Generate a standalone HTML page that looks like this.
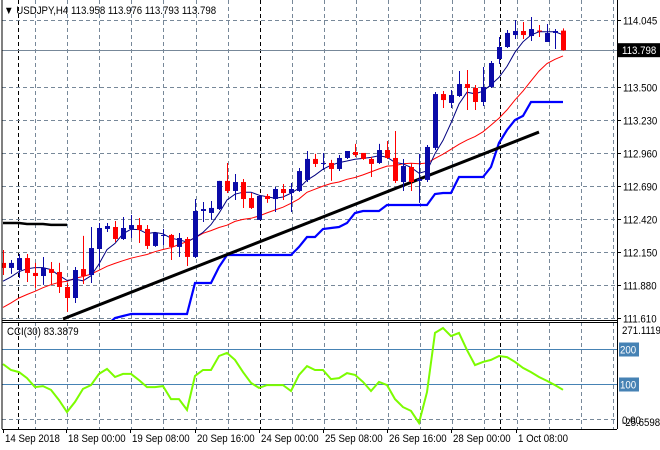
<!DOCTYPE html>
<html><head><meta charset="utf-8"><style>
html,body{margin:0;padding:0;background:#fff;}
svg{display:block;font-family:"Liberation Sans",sans-serif;}
</style></head><body>
<svg id="chart" width="660" height="450" xmlns="http://www.w3.org/2000/svg">
<defs>
<clipPath id="mainClip"><rect x="2" y="0" width="615" height="320"/></clipPath>
<clipPath id="cciClip"><rect x="2" y="323" width="615" height="105"/></clipPath>
</defs>
<g id="grid"></g>
<g id="main" clip-path="url(#mainClip)"></g>
<g id="cci" clip-path="url(#cciClip)"></g>
<g id="axes"></g>
<text class="lbl" x="4" y="14" font-size="11" fill="#000">▼ USDJPY,H4  113.958 113.976 113.793 113.798</text>
<text class="lbl" x="7" y="335" font-size="11" fill="#000">CCI(30) 83.3879</text>
</svg>
<script>
const opens=[112.057,112.016,111.999,112.097,111.975,111.950,112.007,111.983,111.860,111.770,112.007,111.958,112.171,112.335,112.351,112.253,112.335,112.367,112.335,112.196,112.278,112.286,112.188,112.253,112.106,112.482,112.466,112.498,112.728,112.646,112.719,112.588,112.409,112.605,112.580,112.662,112.629,112.646,112.736,112.908,112.871,112.875,112.826,112.916,112.965,112.957,112.908,112.875,112.981,112.916,112.719,112.842,112.728,112.736,112.998,113.439,113.366,113.423,113.521,113.489,113.374,113.497,113.726,113.824,113.922,113.955,113.914,113.959,113.865,113.939,113.958];
const highs=[112.163,112.081,112.130,112.130,112.057,112.106,112.065,112.057,111.893,112.024,112.278,112.351,112.384,112.384,112.400,112.433,112.449,112.425,112.367,112.302,112.335,112.294,112.302,112.269,112.580,112.556,112.564,112.728,112.875,112.785,112.744,112.629,112.613,112.621,112.678,112.703,112.711,112.834,112.973,112.949,112.957,112.900,112.940,112.973,113.031,112.957,112.924,113.031,113.055,113.137,112.908,112.875,112.949,113.022,113.456,113.464,113.472,113.628,113.636,113.513,113.660,113.709,113.906,113.963,114.045,114.029,114.070,114.004,114.012,113.971,113.976];
const lows=[111.958,111.967,111.934,111.901,111.852,111.877,111.885,111.811,111.656,111.729,111.885,111.893,112.024,112.310,112.228,112.245,112.261,112.220,112.171,112.188,112.204,112.081,112.106,112.032,112.097,112.392,112.409,112.490,112.629,112.572,112.507,112.498,112.409,112.548,112.474,112.572,112.474,112.638,112.719,112.842,112.818,112.728,112.809,112.908,112.924,112.900,112.760,112.867,112.908,112.711,112.646,112.646,112.548,112.719,112.981,113.325,113.325,113.415,113.308,113.308,113.341,113.489,113.685,113.816,113.890,113.890,113.873,113.906,113.865,113.808,113.793];
const closes=[112.016,112.057,112.097,111.975,111.950,112.016,111.975,111.860,111.770,111.999,111.950,112.179,112.343,112.359,112.253,112.343,112.367,112.327,112.196,112.302,112.286,112.188,112.261,112.106,112.482,112.498,112.507,112.728,112.646,112.719,112.580,112.507,112.605,112.580,112.662,112.629,112.662,112.809,112.908,112.867,112.875,112.826,112.916,112.973,112.940,112.908,112.867,112.981,112.916,112.728,112.850,112.719,112.744,113.006,113.439,113.390,113.431,113.521,113.489,113.374,113.497,113.693,113.824,113.939,113.955,113.922,113.971,113.955,113.939,113.955,113.798];
const priorCloses=[111.50,111.50,111.55,111.55,111.58,111.60,111.58,111.62,111.66,111.72,111.88,111.88,111.86,111.90];
const stopLine=[111.55,111.55,111.55,111.55,111.55,111.55,111.55,111.55,111.55,111.55,111.55,111.55,111.55,111.55,111.606,111.623,111.639,111.639,111.639,111.639,111.639,111.639,111.639,111.639,111.893,111.893,111.893,112.024,112.122,112.122,112.122,112.122,112.122,112.122,112.122,112.122,112.122,112.188,112.269,112.269,112.335,112.343,112.351,112.384,112.466,112.482,112.482,112.482,112.531,112.531,112.531,112.531,112.531,112.531,112.621,112.629,112.629,112.760,112.760,112.760,112.760,112.842,113.039,113.145,113.227,113.260,113.374,113.374,113.374,113.374,113.374];
const levelLine=[112.384,112.384,112.384,112.376,112.376,112.376,112.368,112.368,112.368];
const trendIdx=[7.5,67];
const trendPrice=[111.598,113.128];
const cciValues=[157,140,134,117,91,94,83,54,20,49,86,97,129,143,120,129,129,111,91,91,94,57,57,26,123,140,140,180,189,169,134,103,89,97,97,97,80,126,151,140,140,114,117,131,126,106,80,106,97,57,34,23,-11,77,246,260,237,246,197,154,163,169,180,177,163,146,134,120,109,97,83.39];
const priceTicks=["114.045","113.500","113.230","112.960","112.690","112.420","112.150","111.880","111.610"];
const cciLevels=[200,100];
const timeLabels=["14 Sep 2018","18 Sep 00:00","19 Sep 08:00","20 Sep 16:00","24 Sep 00:00","25 Sep 08:00","26 Sep 16:00","28 Sep 00:00","1 Oct 08:00"];
const lastPrice=113.798;

const NS="http://www.w3.org/2000/svg";
function xs(i){return 3+8*i;}
function ys(p){return 20+(114.045-p)*122.2;}
function yc(v){return 419-v*0.35;}
function mk(tag,attrs,parent){const e=document.createElementNS(NS,tag);for(const k in attrs)e.setAttribute(k,attrs[k]);parent.appendChild(e);return e;}
const grid=document.getElementById('grid'),main=document.getElementById('main'),cci=document.getElementById('cci'),axes=document.getElementById('axes');

for(let k=0;k<19;k++){const x=Math.round(35+32.1*k)+0.5;const black=(k===7);
 const l=mk('line',{x1:x,y1:0,x2:x,y2:429,stroke:black?'#000':'#778899','stroke-dasharray':'4,3','stroke-width':1},grid);
 
 }
[18.5,500.5].forEach(x=>{const l=mk('line',{x1:x,y1:0,x2:x,y2:429,stroke:'#000','stroke-dasharray':'4,3'},grid);
 
 });
priceTicks.forEach(t=>{const y=Math.round(ys(parseFloat(t)))+0.5;
 const l=mk('line',{x1:2,y1:y,x2:617,y2:y,stroke:'#778899','stroke-dasharray':'4,3'},grid);
 
 
 mk('line',{x1:617,y1:y,x2:621,y2:y,stroke:'#000'},axes);
 const tx=mk('text',{x:623,y:y+4,'font-size':11,fill:'#000','class':'lbl'},axes);tx.textContent=t;
 
 });
{const y=Math.round(ys(lastPrice))+0.5;
 const l=mk('line',{x1:2,y1:y,x2:617,y2:y,stroke:'#778899'},main);
 
 }
function sma(n){const all=priorCloses.concat(closes);const out=[];for(let i=0;i<closes.length;i++){const j=i+priorCloses.length;let s=0,c=0;for(let k=Math.max(0,j-n+1);k<=j;k++){s+=all[k];c++;}out.push(s/c);}return out;}
function poly(vals,color,w,name){const p=mk('polyline',{points:vals.map((v,i)=>xs(i)+','+ys(v).toFixed(1)).join(' '),fill:'none',stroke:color,'stroke-width':w},main);
 
 return p;}
poly(sma(15),'#ff0000',1,'slow-ma-line');
poly(sma(5),'#000080',1,'fast-ma-line');
poly(stopLine,'#0000ff',2.2,'trailing-stop-line');
poly(levelLine,'#000',2.5,'previous-level-line');
{const t=mk('line',{x1:xs(trendIdx[0]),y1:ys(trendPrice[0]),x2:xs(trendIdx[1]),y2:ys(trendPrice[1]),stroke:'#000','stroke-width':3},main);
 
 }
for(let i=0;i<closes.length;i++){const bull=closes[i]>=opens[i];const col=bull?'#0a0aa8':'#ff0000';const x=xs(i);
 const g=mk('g',{},main);
 
 
 mk('line',{x1:x+0.5,y1:ys(highs[i]),x2:x+0.5,y2:ys(lows[i]),stroke:col,'stroke-width':1},g);
 const top=ys(Math.max(opens[i],closes[i])),bot=ys(Math.min(opens[i],closes[i]));
 mk('rect',{x:x-2,y:top,width:5,height:Math.max(1,bot-top),fill:col},g);}
cciLevels.forEach(v=>{const y=Math.round(yc(v))+0.5;
 const l=mk('line',{x1:2,y1:y,x2:617,y2:y,stroke:'#4682b4'},cci);
 
 
 const r=mk('rect',{x:619,y:y-7,width:20,height:14,fill:'#4682b4'},axes);
 
 
 const t=mk('text',{x:620,y:y+4,'font-size':11,fill:'#fff','class':'lbl'},axes);t.textContent=String(v);
 
 });
{const y=Math.round(yc(0))+0.5;const l=mk('line',{x1:2,y1:y,x2:617,y2:y,stroke:'#778899','stroke-dasharray':'4,3'},cci);
 
 }
{const p=mk('polyline',{points:cciValues.map((v,i)=>xs(i)+','+yc(v).toFixed(1)).join(' '),fill:'none',stroke:'#7cfc00','stroke-width':2},cci);
 
 }
[["271.1119",334],["0.00",424],["-25.6598",426]].forEach(a=>{const t=mk('text',{x:622,y:a[1],'font-size':11,fill:'#000','class':'lbl'},axes);t.textContent=a[0];
 
 });
[[2,0,2,429],[617.5,0,617.5,429],[2,320.5,617,320.5],[2,322.5,617,322.5],[2,429.5,617,429.5]].forEach(a=>{const l=mk('line',{x1:a[0],y1:a[1],x2:a[2],y2:a[3],stroke:'#000'},axes);
 
 });
{const y=ys(lastPrice);const r=mk('rect',{x:618,y:y-7,width:42,height:14,fill:'#000'},axes);
 
 
 const t=mk('text',{x:622,y:y+4,'font-size':11,fill:'#fff','class':'lbl'},axes);t.textContent=lastPrice.toFixed(3);
 
 }
timeLabels.forEach((s,k)=>{const x=k===0?3:Math.round(35+32.1*(2*k-1))-1;
 mk('line',{x1:x+0.5,y1:429,x2:x+0.5,y2:433,stroke:'#000'},axes);
 const t=mk('text',{x:x+2,y:442,'font-size':11,fill:'#000','class':'lbl'},axes);t.textContent=s;
 
 });
document.querySelectorAll('text.lbl').forEach(t=>{const w=t.getComputedTextLength();
 t.setAttribute('textLength',(w*0.88).toFixed(1));
 t.setAttribute('lengthAdjust','spacingAndGlyphs');});
</script>
</body></html>
